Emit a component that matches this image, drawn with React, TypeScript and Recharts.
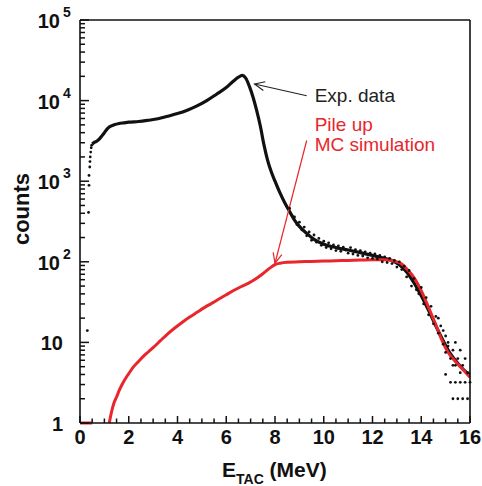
import { ComposedChart, Line, Scatter, XAxis, YAxis, ReferenceLine } from "recharts";

// E_TAC (MeV), counts
const expCurve: [number, number][] = [
  [0.5, 2900], [0.6, 3050], [0.7, 3150], [0.8, 3350], [0.9, 3650], [1.0, 4000],
  [1.1, 4400], [1.2, 4700], [1.4, 5000], [1.6, 5200], [1.8, 5300], [2.0, 5400],
  [2.4, 5500], [2.8, 5700], [3.2, 5950], [3.6, 6400], [4.0, 6900], [4.4, 7600],
  [4.8, 8600], [5.2, 10000], [5.6, 12000], [6.0, 14500], [6.3, 17500], [6.5, 19500],
  [6.65, 20500], [6.8, 19000], [6.95, 15000], [7.1, 11000], [7.25, 7500], [7.4, 4800],
  [7.55, 2800], [7.7, 1800], [7.85, 1300], [8.0, 1000], [8.2, 720], [8.4, 540],
  [8.6, 420], [8.8, 330], [9.0, 275], [9.3, 225], [9.6, 190], [10.0, 165],
  [10.5, 150], [11.0, 140], [11.5, 130], [12.0, 120], [12.4, 112], [12.8, 104],
  [13.1, 92], [13.4, 75], [13.7, 55], [14.0, 38], [14.3, 25], [14.6, 16],
  [14.9, 10.5], [15.2, 7.2], [15.5, 5.5], [15.8, 4.4], [16.0, 4.0],
];

const expStart: [number, number][] = [
  [0.3, 14], [0.35, 410], [0.37, 890], [0.37, 1180], [0.4, 1500], [0.41, 1750],
  [0.42, 2000], [0.44, 2300], [0.46, 2600], [0.48, 2800],
];

const expNoise: [number, number][] = [
  [8.6, 460], [8.8, 360], [8.9, 290], [9.0, 310], [9.1, 250], [9.2, 270],
  [9.3, 210], [9.4, 235], [9.5, 185], [9.6, 215], [9.7, 175], [9.8, 195],
  [9.9, 160], [10.0, 180], [10.1, 150], [10.2, 172], [10.3, 145], [10.4, 162],
  [10.5, 138], [10.6, 158], [10.7, 135], [10.8, 152], [10.9, 140], [11.0, 128],
  [11.1, 150], [11.2, 125], [11.3, 142], [11.4, 120], [11.5, 138], [11.6, 118],
  [11.7, 133], [11.8, 112], [11.9, 128], [12.0, 110], [12.1, 125], [12.2, 108],
  [12.3, 120], [12.4, 100], [12.5, 115], [12.6, 98], [12.7, 110], [12.8, 95],
  [12.9, 104], [13.0, 86], [13.1, 100], [13.2, 80], [13.3, 88], [13.4, 65],
  [13.5, 78], [13.6, 50], [13.7, 62], [13.8, 45], [13.9, 40], [14.0, 48],
  [14.1, 30], [14.2, 36], [14.3, 22], [14.4, 28], [14.5, 17], [14.6, 21],
  [14.7, 13], [14.8, 16], [14.9, 9.5], [15.0, 12], [15.0, 7.5], [15.1, 9],
  [15.2, 6.3], [15.3, 8], [15.4, 5.2], [15.5, 6.3], [15.6, 4.2], [15.7, 5.2],
  [15.8, 3.2], [15.9, 4.2], [16.0, 3.2], [15.3, 2], [15.5, 2], [15.7, 2],
  [15.9, 2], [15.2, 3.2], [15.4, 3.2], [15.6, 3.2], [14.9, 14], [14.7, 20],
  [15.0, 4], [15.4, 10], [15.1, 10], [15.6, 8], [15.8, 6.3], [15.3, 5.2],
];

const mcFloor: [number, number][] = [[0, 1], [0.5, 1]];

const mcCurve: [number, number][] = [
  [1.2, 1.0], [1.3, 1.4], [1.4, 1.8], [1.5, 2.1], [1.6, 2.5], [1.7, 2.9],
  [1.8, 3.3], [1.9, 3.7], [2.0, 4.1], [2.2, 5.0], [2.4, 5.8], [2.6, 6.7],
  [2.8, 7.6], [3.0, 8.6], [3.3, 10.5], [3.6, 12.8], [3.9, 15.2], [4.2, 17.8],
  [4.5, 20.6], [4.8, 23.6], [5.1, 27], [5.4, 30.5], [5.7, 34.5], [6.0, 39],
  [6.3, 44], [6.6, 49], [6.9, 54], [7.2, 61], [7.5, 71], [7.8, 84],
  [8.0, 92], [8.2, 96], [8.5, 99], [9.0, 100], [9.5, 101], [10.0, 102],
  [10.5, 103], [11.0, 104], [11.5, 105], [12.0, 106], [12.5, 106], [12.8, 104],
  [13.0, 100], [13.2, 94], [13.4, 82], [13.6, 70], [13.8, 57], [14.0, 44],
  [14.2, 32], [14.4, 23], [14.6, 16.5], [14.8, 11.5], [15.0, 8.5], [15.2, 6.8],
  [15.4, 5.8], [15.6, 5.0], [15.8, 4.3], [16.0, 3.7],
];

const decades = [1, 10, 100, 1000, 10000, 100000];
const xTicks = Array.from({ length: 33 }, (_, i) => i / 2);
const yTicks = decades.flatMap((d) => (d === 100000 ? [d] : [1, 2, 3, 4, 5, 6, 7, 8, 9].map((m) => m * d)));

// annotation arrows: [tail, head]
const expArrow: [number, number][] = [[9.3, 11500], [7.16, 16100]];
const mcArrow: [number, number][] = [[9.3, 3200], [8.0, 96]];

const toPts = (arr: [number, number][]) => arr.map(([x, y]) => ({ x, y }));

const FONT = "'Liberation Sans', Arial, Helvetica, sans-serif";
const INK = "#111";
const RED = "#e8262b";
const TICK_W = 1.5;

const isMajorY = (v: number) => decades.includes(v);

function LeftTick(props: any) {
  const x = Number(props.x);
  const y = Number(props.y);
  const v = props.payload.value;
  const major = isMajorY(v);
  const exp = Math.round(Math.log10(v));
  return (
    <g>
      <path d={`M${x},${y}H${x + (major ? 9 : 5)}`} stroke={INK} strokeWidth={TICK_W} fill="none" />
      {major && exp < 2 && (
        <text x={x - 17} y={y + 8} textAnchor="end" fontFamily={FONT} fontWeight="bold" fontSize={20} fill={INK}>
          {v}
        </text>
      )}
      {major && exp >= 2 && (
        <g fontFamily={FONT} fontWeight="bold" fill={INK}>
          <text x={x - 20} y={y + 8} textAnchor="end" fontSize={20}>10</text>
          <text x={x - 17} y={y - 3} fontSize={14}>{exp}</text>
        </g>
      )}
    </g>
  );
}

function RightTick(props: any) {
  const x = Number(props.x);
  const y = Number(props.y);
  const major = isMajorY(props.payload.value);
  return <path d={`M${x},${y}H${x - (major ? 8 : 4)}`} stroke={INK} strokeWidth={TICK_W} fill="none" />;
}

function BottomTick(props: any) {
  const x = Number(props.x);
  const y = Number(props.y);
  const v = props.payload.value;
  const major = v % 2 === 0;
  return (
    <g>
      <path d={`M${x},${y}V${y - (major ? 7 : 4.5)}`} stroke={INK} strokeWidth={TICK_W} fill="none" />
      {major && (
        <text x={x} y={y + 21} textAnchor="middle" fontFamily={FONT} fontWeight="bold" fontSize={20} fill={INK}>
          {v}
        </text>
      )}
    </g>
  );
}

function TopTick(props: any) {
  const x = Number(props.x);
  const y = Number(props.y);
  const major = props.payload.value % 2 === 0;
  return <path d={`M${x},${y}V${y + (major ? 6 : 4)}`} stroke={INK} strokeWidth={TICK_W} fill="none" />;
}

function XTitle({ viewBox }: any) {
  return (
    <text x={viewBox.x + 142} y={viewBox.y + 54} fontFamily={FONT} fontWeight="bold" fontSize={21} fill={INK}>
      E
      <tspan fontSize={14} dy={7}>TAC</tspan>
      <tspan dy={-7}> (MeV)</tspan>
    </text>
  );
}

function YTitle() {
  return (
    <text transform="translate(29,209) rotate(-90)" textAnchor="middle" fontFamily={FONT} fontWeight="bold" fontSize={22} fill={INK}>
      counts
    </text>
  );
}

function arrowShape(color: string, width: number, labels: { text: string; dy: number }[]) {
  return (p: any) => {
    const { x1, y1, x2, y2 } = p;
    const ang = Math.atan2(y2 - y1, x2 - x1);
    const len = 11;
    const spread = 0.42;
    const w1x = x2 - len * Math.cos(ang - spread);
    const w1y = y2 - len * Math.sin(ang - spread);
    const w2x = x2 - len * Math.cos(ang + spread);
    const w2y = y2 - len * Math.sin(ang + spread);
    return (
      <g>
        <line x1={x1} y1={y1} x2={x2} y2={y2} stroke={color} strokeWidth={width} />
        <polyline points={`${w1x},${w1y} ${x2},${y2} ${w2x},${w2y}`} fill="none" stroke={color} strokeWidth={width} />
        {labels.map((l) => (
          <text key={l.text} x={x1 + 8} y={y1 + l.dy} fontFamily={FONT} fontSize={19} fill={color}>
            {l.text}
          </text>
        ))}
      </g>
    );
  };
}

const dot = (color: string) => (p: any) => <circle cx={p.cx} cy={p.cy} r={1.4} fill={color} />;

export default function App() {
  return (
    <div style={{ position: "absolute", left: 0, top: 0, background: "#fff" }}>
      <ComposedChart width={482} height={486} margin={{ top: 0, right: 0, bottom: 0, left: 0 }}>
        <XAxis
          dataKey="x"
          type="number"
          domain={[0, 16]}
          ticks={xTicks}
          interval={0}
          height={63}
          tickSize={0}
          tickMargin={0}
          tick={<BottomTick />}
          tickLine={false}
          axisLine={{ stroke: INK, strokeWidth: 1.6 }}
          label={{ content: XTitle }}
        />
        <XAxis
          xAxisId="top"
          orientation="top"
          dataKey="x"
          type="number"
          domain={[0, 16]}
          ticks={xTicks}
          interval={0}
          height={20}
          tickSize={0}
          tickMargin={0}
          tick={<TopTick />}
          tickLine={false}
          axisLine={{ stroke: INK, strokeWidth: 1.6 }}
        />
        <YAxis
          dataKey="y"
          scale="log"
          domain={[1, 100000]}
          ticks={yTicks}
          interval={0}
          width={80}
          tickSize={0}
          tickMargin={0}
          tick={<LeftTick />}
          tickLine={false}
          axisLine={{ stroke: INK, strokeWidth: 1.6 }}
          label={{ content: YTitle }}
        />
        <YAxis
          yAxisId="right"
          orientation="right"
          dataKey="y"
          scale="log"
          domain={[1, 100000]}
          ticks={yTicks}
          interval={0}
          width={12}
          tickSize={0}
          tickMargin={0}
          tick={<RightTick />}
          tickLine={false}
          axisLine={{ stroke: INK, strokeWidth: 1.6 }}
        />
        <Scatter data={toPts(expStart)} fill={INK} shape={dot(INK)} isAnimationActive={false} />
        <Scatter data={toPts(expNoise)} fill={INK} shape={dot(INK)} isAnimationActive={false} />
        <Line data={toPts(expCurve)} dataKey="y" type="monotone" stroke={INK} strokeWidth={3.2} dot={false} isAnimationActive={false} />
        <Line data={toPts(mcFloor)} dataKey="y" type="linear" stroke={RED} strokeWidth={3} dot={false} isAnimationActive={false} />
        <Line data={toPts(mcCurve)} dataKey="y" type="monotone" stroke={RED} strokeWidth={3} dot={false} isAnimationActive={false} />
        <ReferenceLine
          segment={toPts(expArrow)}
          shape={arrowShape("#222", 1.1, [{ text: "Exp. data", dy: 6 }])}
        />
        <ReferenceLine
          segment={toPts(mcArrow)}
          shape={arrowShape(RED, 1.2, [
            { text: "Pile up", dy: -9 },
            { text: "MC simulation", dy: 11 },
          ])}
        />
      </ComposedChart>
    </div>
  );
}
